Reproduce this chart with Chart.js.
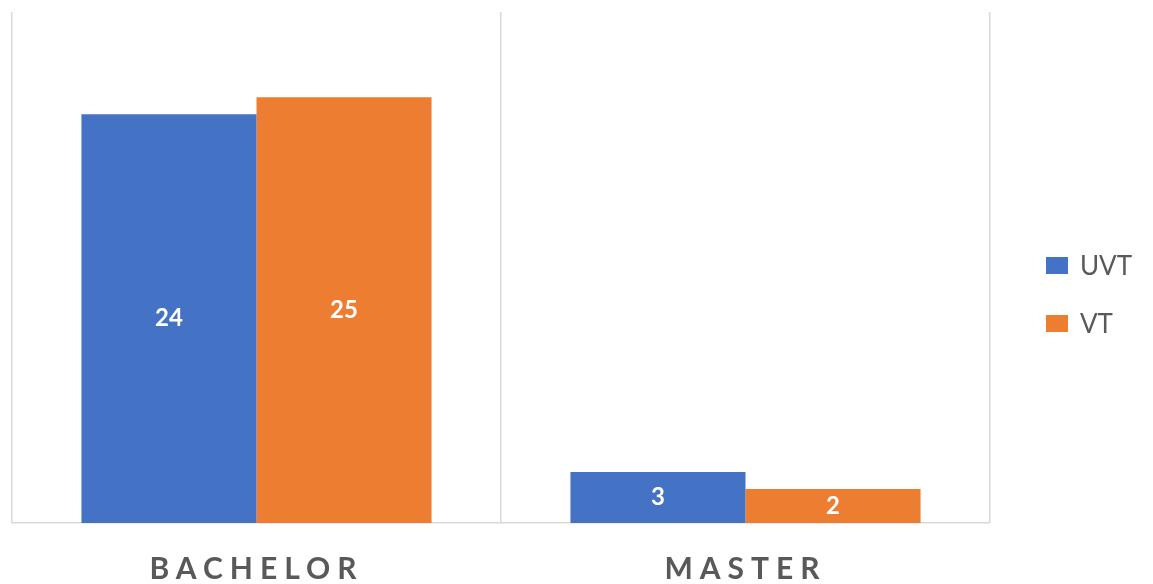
<!DOCTYPE html>
<html>
<head>
<meta charset="utf-8">
<script src="https://cdn.jsdelivr.net/npm/chart.js@4"></script>
<style>
  html, body { margin: 0; padding: 0; background: #fff; }
  #wrap { position: relative; width: 1153px; height: 584px; }
  #legend { position: absolute; left: 1046px; top: 248px; font-family: Lato, sans-serif; font-size: 26px; color: #595959; }
  .item { display: flex; align-items: center; height: 34px; margin-bottom: 24px; }
  .box { width: 22px; height: 17px; margin-right: 12px; }
</style>
</head>
<body>
<div id="wrap">
  <canvas id="myChart" width="1153" height="584"></canvas>
  <div id="legend"></div>
</div>
<script>
// data
var categories = ['BACHELOR', 'MASTER'];
var seriesNames = ['UVT', 'VT'];
var uvt = [24, 3];
var vt = [25, 2];
var colors = ['#4472C4', '#ED7D31'];

// white value labels in the middle of each bar
const barLabels = {
    id: 'barLabels',
    beforeDraw: function(chart) {
        chart.ctx.letterSpacing = '7px';
    },
    beforeDatasetsDraw: function(chart) {
        chart.ctx.letterSpacing = '0px';
    },
    afterDatasetsDraw: function(chart) {
        const ctx = chart.ctx;
        ctx.save();
        ctx.fillStyle = '#ffffff';
        ctx.font = 'bold 24px Lato, sans-serif';
        ctx.textAlign = 'center';
        ctx.textBaseline = 'middle';
        chart.data.datasets.forEach(function(ds, i) {
            chart.getDatasetMeta(i).data.forEach(function(bar, j) {
                ctx.fillText(ds.data[j], bar.x, (bar.y + bar.base) / 2);
            });
        });
        ctx.restore();
    }
};

const ctx = document.getElementById('myChart').getContext('2d');
const myChart = new Chart(ctx, {
    type: 'bar',
    data: {
        labels: categories,
        datasets: [
            {
                label: seriesNames[0],
                data: uvt,
                backgroundColor: colors[0],
                categoryPercentage: 0.716,
                barPercentage: 1
            },
            {
                label: seriesNames[1],
                data: vt,
                backgroundColor: colors[1],
                categoryPercentage: 0.716,
                barPercentage: 1
            }
        ]
    },
    options: {
        responsive: false,
        animation: false,
        layout: {
            padding: {left: 12, right: 163, top: 12, bottom: -31}
        },
        plugins: {
            legend: {display: false},
            tooltip: {enabled: false}
        },
        scales: {
            x: {
                grid: {
                    offset: true,
                    color: '#d9d9d9',
                    lineWidth: 1.5,
                    drawTicks: false
                },
                border: {color: '#d9d9d9', width: 1.5},
                ticks: {
                    color: '#595959',
                    padding: 28,
                    maxRotation: 0,
                    autoSkip: false,
                    font: {family: 'Lato, sans-serif', size: 30, weight: 'bold'}
                }
            },
            y: {
                display: false,
                min: 0,
                max: 30
            }
        }
    },
    plugins: [barLabels]
});

// legend on the right
var legendHtml = '';
seriesNames.forEach(function(name, i) {
    legendHtml += '<div class="item"><span class="box" style="background:' + colors[i] + '"></span>' + name + '</div>';
});
document.getElementById('legend').innerHTML = legendHtml;
</script>
</body>
</html>
